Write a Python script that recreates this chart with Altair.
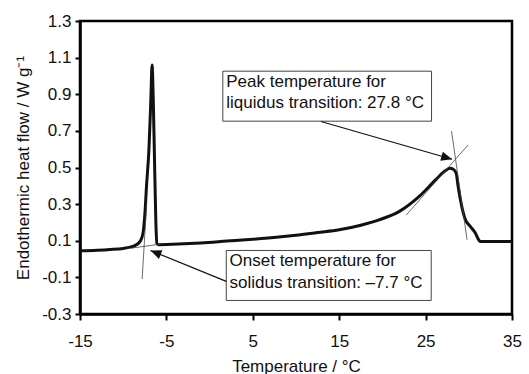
import altair as alt
import pandas as pd

# DSC curve (temperature in degC, heat flow in W/g)
curve_x = [-15, -13, -11.5, -10, -9.2, -8.6, -8.2, -7.9, -7.68, -7.5, -7.3, -7.02, -6.8,
           -6.66, -6.52, -6.40, -6.22, -6.1, -5.9, -3, -1, 2, 5, 8, 10, 12.5, 15, 17.5,
           19.62, 21.92, 24.23, 26.15, 27.31, 27.81, 28.2, 28.54, 28.77, 29.15, 29.54,
           30.19, 30.77, 31.15, 31.3, 33, 35]
curve_y = [0.045, 0.048, 0.052, 0.058, 0.065, 0.075, 0.088, 0.11, 0.15, 0.24, 0.4, 0.6, 0.87,
           1.06, 0.87, 0.6, 0.2, 0.085, 0.078, 0.083, 0.088, 0.098, 0.108, 0.12, 0.13, 0.145,
           0.16, 0.185, 0.214, 0.259, 0.341, 0.432, 0.483, 0.496, 0.49, 0.468, 0.395, 0.296,
           0.223, 0.177, 0.141, 0.105, 0.096, 0.096, 0.096]

# thin construction (tangent) lines: id, x, y
tan_id = ["on_v", "on_v", "on_b", "on_b", "pk_d", "pk_d", "pk_a", "pk_a"]
tan_x = [-7.81, -7.27, -9.03, -5.77, 28.0, 29.8, 22.77, 29.92]
tan_y = [-0.109, 0.31, 0.060, 0.081, 0.699, 0.105, 0.241, 0.623]

# annotation boxes
box_x1 = [1.53, 1.93]
box_x2 = [25.69, 25.65]
box_y1 = [1.026, 0.047]
box_y2 = [0.753, -0.226]

# annotation text lines
txt_x = [1.93, 1.93, 2.31, 2.31]
txt_y = [0.968, 0.850, -0.013, -0.131]
txt_s = ["Peak temperature for", "liquidus transition: 27.8 °C",
         "Onset temperature for", "solidus transition: \u20137.7 °C"]

# arrows: start and tip
arr_x1 = [12.89, 1.93]
arr_y1 = [0.751, -0.122]
arr_x2 = [28.07, -6.84]
arr_y2 = [0.545, 0.047]
arr_angle = [16.0, 202.2]

x_ticks = [-15, -5, 5, 15, 25, 35]
y_ticks = [-0.3, -0.1, 0.1, 0.3, 0.5, 0.7, 0.9, 1.1, 1.3]

FONT = "Liberation Sans"

xs = alt.Scale(domain=[-15, 35], nice=False, zero=False)
ys = alt.Scale(domain=[-0.3, 1.3], nice=False, zero=False)

X = lambda f: alt.X(f, type="quantitative", scale=xs, axis=alt.Axis(
    title="Temperature / °C", values=x_ticks, tickSize=6, labelPadding=26.4,
    labelBaseline="alphabetic", titleBaseline="alphabetic", titleY=57,
    labelFlush=False, labelOverlap=False,
    labelExpr="replace(format(datum.value, 'd'), '\u2212', '-')"))
Y = lambda f: alt.Y(f, type="quantitative", scale=ys, axis=alt.Axis(
    title="Endothermic heat flow / W g\u207b\u00b9", values=y_ticks, tickSize=5,
    labelPadding=4, titleX=-51.7, titleY=146.5, titleBaseline="alphabetic",
    titleAlign="center", titleAngle=270, labelFlush=False, labelOverlap=False,
    labelExpr="replace(format(datum.value, '.1f'), '\u2212', '-')"))

curve_df = pd.DataFrame({"x": curve_x, "y": curve_y, "o": range(len(curve_x))})
tan_df = pd.DataFrame({"id": tan_id, "x": tan_x, "y": tan_y, "o": range(len(tan_x))})
box_df = pd.DataFrame({"x": box_x1, "x2": box_x2, "y": box_y1, "y2": box_y2})
txt_df = pd.DataFrame({"x": txt_x, "y": txt_y, "t": txt_s})
arr_df = pd.DataFrame({"x": arr_x1, "y": arr_y1, "x2": arr_x2, "y2": arr_y2, "a": arr_angle})

curve = alt.Chart(curve_df).mark_line(color="#111111", strokeWidth=3, interpolate="monotone").encode(
    x=X("x"), y=Y("y"), order="o:Q")

tangents = alt.Chart(tan_df).mark_line(color="#444444", strokeWidth=0.8).encode(
    x=X("x"), y=Y("y"), detail="id:N", order="o:Q")

boxes = alt.Chart(box_df).mark_rect(fill="white", stroke="#444444", strokeWidth=1).encode(
    x=X("x"), x2="x2", y=Y("y"), y2="y2")

arrow_lines = alt.Chart(arr_df).mark_rule(color="#111111", strokeWidth=1.2).encode(
    x=X("x"), x2="x2", y=Y("y"), y2="y2")

heads = alt.Chart(arr_df).mark_point(
    shape="M0,0L-1,-0.42L-1,0.42Z", filled=True, color="#111111", size=484, opacity=1).encode(
    x=X("x2"), y=Y("y2"), angle=alt.Angle("a:Q", scale=None))

texts = alt.Chart(txt_df).mark_text(align="left", baseline="middle", font=FONT, fontSize=17,
                                    color="#111111").encode(
    x=X("x"), y=Y("y"), text="t:N")

chart = alt.layer(curve, tangents, boxes, arrow_lines, heads, texts).properties(
    width=432, height=293,
    autosize=alt.AutoSizeParams(type="none"),
    padding={"left": 80, "top": 21, "right": 17, "bottom": 60},
    background="white",
).configure_view(
    stroke="black", strokeWidth=2.5
).configure_axis(
    grid=False, domainColor="black", domainWidth=2.5, tickColor="black", tickWidth=2,
    labelFont=FONT, labelFontSize=17, labelColor="#111111",
    titleFont=FONT, titleFontSize=17, titleFontWeight="normal", titleColor="#111111",
)

chart.save("out.html", embed_options={"renderer": "svg", "actions": False})
